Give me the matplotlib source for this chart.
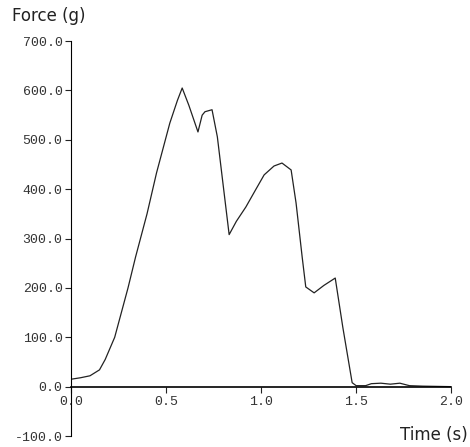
import matplotlib
matplotlib.use("Agg")
import matplotlib.pyplot as plt

# force trace
time_s = [0.0, 0.05, 0.10, 0.15, 0.18, 0.23, 0.30, 0.34, 0.40, 0.45, 0.52, 0.56, 0.585,
          0.62, 0.668, 0.69, 0.705, 0.742, 0.77, 0.80, 0.832, 0.87, 0.92, 0.97, 1.016,
          1.068, 1.11, 1.158, 1.184, 1.216, 1.235, 1.279, 1.33, 1.39, 1.43, 1.479, 1.50,
          1.55, 1.58, 1.63, 1.68, 1.73, 1.78, 1.85, 2.0]
force_g = [15, 18, 22, 34, 55, 100, 200, 263, 350, 433, 534, 580, 605,
           570, 516, 550, 557, 561, 506, 410, 308, 335, 364, 398, 429,
           447, 453, 439, 372, 263, 202, 190, 205, 220, 120, 8, 2,
           2, 6, 7, 5, 7, 2, 1, 0]
xticks = [0.0, 0.5, 1.0, 1.5, 2.0]
yticks = [-100, 0, 100, 200, 300, 400, 500, 600, 700]

fig = plt.figure(figsize=(4.70, 4.47), dpi=100)
ax = fig.add_axes([0.151, 0.0246, 0.809, 0.8834])

ax.plot(time_s, force_g, color="#222222", linewidth=0.9)

ax.set_xlim(0, 2.0)
ax.set_ylim(-100, 700)
ax.spines["top"].set_visible(False)
ax.spines["right"].set_visible(False)
ax.spines["bottom"].set_position(("data", 0))
ax.spines["left"].set_linewidth(0.8)
ax.spines["bottom"].set_linewidth(1.2)

mono = dict(family="Liberation Mono", fontsize=9.5, color="#333333")
ax.set_xticks(xticks)
ax.set_xticklabels(["%.1f" % t for t in xticks], **mono)
ax.set_yticks(yticks)
ax.set_yticklabels(["%.1f" % v for v in yticks], **mono)
ax.tick_params(axis="both", direction="out", length=4, width=0.8, color="#222222")
ax.tick_params(axis="x", pad=3)
ax.tick_params(axis="y", pad=2)

fig.text(0.025, 0.953, "Force (g)", fontsize=12, color="#222222", ha="left", va="baseline")
fig.text(0.995, 0.015, "Time (s)", fontsize=12, color="#222222", ha="right", va="baseline")

fig.savefig("out.png", dpi=100)
